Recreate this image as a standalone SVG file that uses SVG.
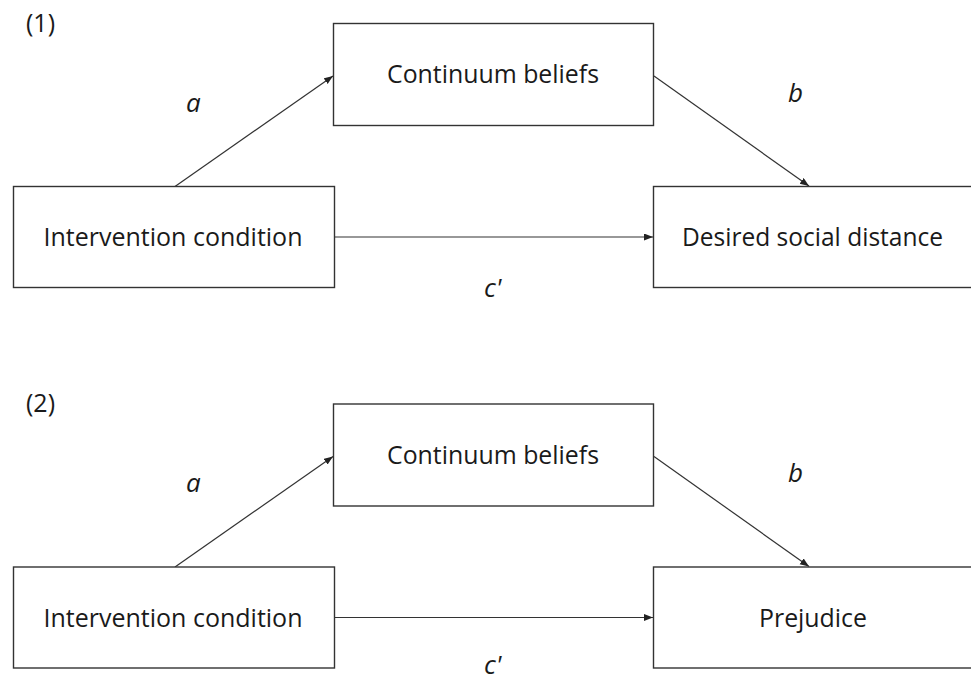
<svg xmlns="http://www.w3.org/2000/svg" width="971" height="681" viewBox="0 0 971 681">
<style>
.box{fill:#fff;stroke:#333;stroke-width:1.4}
.lbl{font-family:"Open Sans","Noto Sans","Liberation Sans",sans-serif;font-size:26px;fill:#1a1a1a;text-anchor:middle}
.it{font-family:"Open Sans","Noto Sans","Liberation Sans",sans-serif;font-size:26px;font-style:italic;fill:#1a1a1a}
.pn{font-family:"Open Sans","Noto Sans","Liberation Sans",sans-serif;font-size:25px;fill:#1a1a1a}
.edge{stroke:#333;stroke-width:1.2;fill:none;marker-end:url(#ah)}
</style>
<defs>
<marker id="ah" markerUnits="userSpaceOnUse" markerWidth="10" markerHeight="8" refX="9" refY="3.5" orient="auto">
<path d="M0,0 L9,3.5 L0,7 z" fill="#222"/>
</marker>
</defs>
<rect width="971" height="681" fill="#fff"/>
<text class="pn" x="26" y="32">(1)</text>
<text class="pn" x="26" y="412">(2)</text>
<g id="connectors">
<line class="edge" x1="175" y1="186.5" x2="333" y2="76"/>
<line class="edge" x1="654" y1="76" x2="809" y2="186"/>
<line class="edge" x1="334.5" y1="237" x2="653" y2="237"/>
<line class="edge" x1="175" y1="567" x2="333" y2="456.5"/>
<line class="edge" x1="654" y1="456.5" x2="809" y2="566.5"/>
<line class="edge" x1="334.5" y1="617.5" x2="653" y2="617.5"/>
</g>
<g id="labels">
<text class="it" x="186" y="112">a</text>
<text class="it" x="788" y="102">b</text>
<text class="it" x="484" y="297">c'</text>
<text class="it" x="186" y="492">a</text>
<text class="it" x="788" y="482">b</text>
<text class="it" x="484" y="674">c'</text>
</g>
<g id="n1-intervention">
<rect class="box" x="13.5" y="186.5" width="321" height="101"/>
<text class="lbl" x="173" y="246" textLength="259" lengthAdjust="spacingAndGlyphs">Intervention condition</text>
</g>
<g id="n1-continuum">
<rect class="box" x="333.5" y="23.5" width="320" height="102"/>
<text class="lbl" x="493" y="83" textLength="212" lengthAdjust="spacingAndGlyphs">Continuum beliefs</text>
</g>
<g id="n1-distance">
<rect class="box" x="653.5" y="186.5" width="330" height="101"/>
<text class="lbl" x="812.5" y="246" textLength="261" lengthAdjust="spacingAndGlyphs">Desired social distance</text>
</g>
<g id="n2-intervention">
<rect class="box" x="13.5" y="567" width="321" height="101"/>
<text class="lbl" x="173" y="626.5" textLength="259" lengthAdjust="spacingAndGlyphs">Intervention condition</text>
</g>
<g id="n2-continuum">
<rect class="box" x="333.5" y="404" width="320" height="102"/>
<text class="lbl" x="493" y="463.5" textLength="212" lengthAdjust="spacingAndGlyphs">Continuum beliefs</text>
</g>
<g id="n2-prejudice">
<rect class="box" x="653.5" y="567" width="330" height="101"/>
<text class="lbl" x="813" y="626.5" textLength="108" lengthAdjust="spacingAndGlyphs">Prejudice</text>
</g>
</svg>
